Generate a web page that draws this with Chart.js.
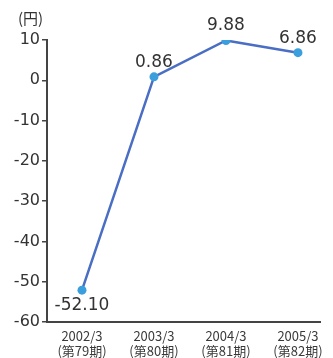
<!DOCTYPE html>
<html>
<head>
<meta charset="utf-8">
<script src="https://cdn.jsdelivr.net/npm/chart.js@4/dist/chart.umd.min.js"></script>
<style>
  html, body { margin: 0; padding: 0; background: #fff; }
  #wrap { position: relative; width: 333px; height: 358px; }
  #unit { position: absolute; left: 18px; top: 7px; font: 15px "Noto Sans CJK JP", "Noto Sans", sans-serif; color: #333; }
</style>
</head>
<body>
<div id="wrap">
  <div id="unit">(円)</div>
  <canvas id="epsChart" width="333" height="358"></canvas>
</div>
<script>
var periods = ['2002/3', '2003/3', '2004/3', '2005/3'];
var terms = ['(第79期)', '(第80期)', '(第81期)', '(第82期)'];
var eps = [-52.10, 0.86, 9.88, 6.86];
var epsText = ['-52.10', '0.86', '9.88', '6.86'];
var yTicks = [10, 0, -10, -20, -30, -40, -50, -60];

var points = eps.map(function (v, i) { return { x: i, y: v }; });

// value labels above the points (first one sits below)
var valueLabels = {
    id: 'valueLabels',
    afterDatasetsDraw: function (chart) {
        var ctx = chart.ctx;
        var meta = chart.getDatasetMeta(0);
        ctx.save();
        ctx.font = '17px "DejaVu Sans", sans-serif';
        ctx.fillStyle = '#333';
        ctx.textAlign = 'center';
        meta.data.forEach(function (pt, i) {
            if (i === 0) {
                ctx.textBaseline = 'top';
                ctx.fillText(epsText[i], pt.x, pt.y + 7);
            } else {
                ctx.textBaseline = 'bottom';
                ctx.fillText(epsText[i], pt.x, pt.y - 6);
            }
        });
        ctx.restore();
    }
};

var ctx = document.getElementById('epsChart').getContext('2d');

new Chart(ctx, {
    type: 'line',
    data: {
        datasets: [{
            data: points,
            borderColor: '#4a6ec4',
            borderWidth: 2.5,
            pointRadius: 4.5,
            pointBackgroundColor: '#3a9fdc',
            pointBorderWidth: 0,
            tension: 0
        }]
    },
    options: {
        responsive: false,
        animation: false,
        layout: { padding: { top: 40, right: 13, left: 0, bottom: 0 } },
        plugins: { legend: { display: false }, tooltip: { enabled: false } },
        scales: {
            x: {
                type: 'linear',
                min: -0.486,
                max: 3.306,
                afterBuildTicks: function (scale) {
                    scale.ticks = periods.map(function (p, i) { return { value: i }; });
                },
                afterFit: function (scale) { scale.height = 36; },
                grid: { display: false, drawTicks: false },
                border: { display: true, color: '#444', width: 2 },
                ticks: {
                    padding: 7,
                    color: '#3a3a3a',
                    font: { size: 13, family: '"Noto Sans CJK JP", "DejaVu Sans", sans-serif', lineHeight: 1.15 },
                    maxRotation: 0,
                    callback: function (v) { return [periods[v], terms[v]]; }
                }
            },
            y: {
                min: -60,
                max: 10,
                afterBuildTicks: function (scale) {
                    scale.ticks = yTicks.map(function (v) { return { value: v }; });
                },
                afterFit: function (scale) { scale.width = 47; },
                grid: { drawOnChartArea: false, drawTicks: true, tickLength: 5, color: '#444', lineWidth: 1.5 },
                border: { display: true, color: '#444', width: 2 },
                ticks: {
                    padding: 2,
                    color: '#333',
                    font: { size: 16, family: '"DejaVu Sans", sans-serif' }
                }
            }
        }
    },
    plugins: [valueLabels]
});
</script>
</body>
</html>
